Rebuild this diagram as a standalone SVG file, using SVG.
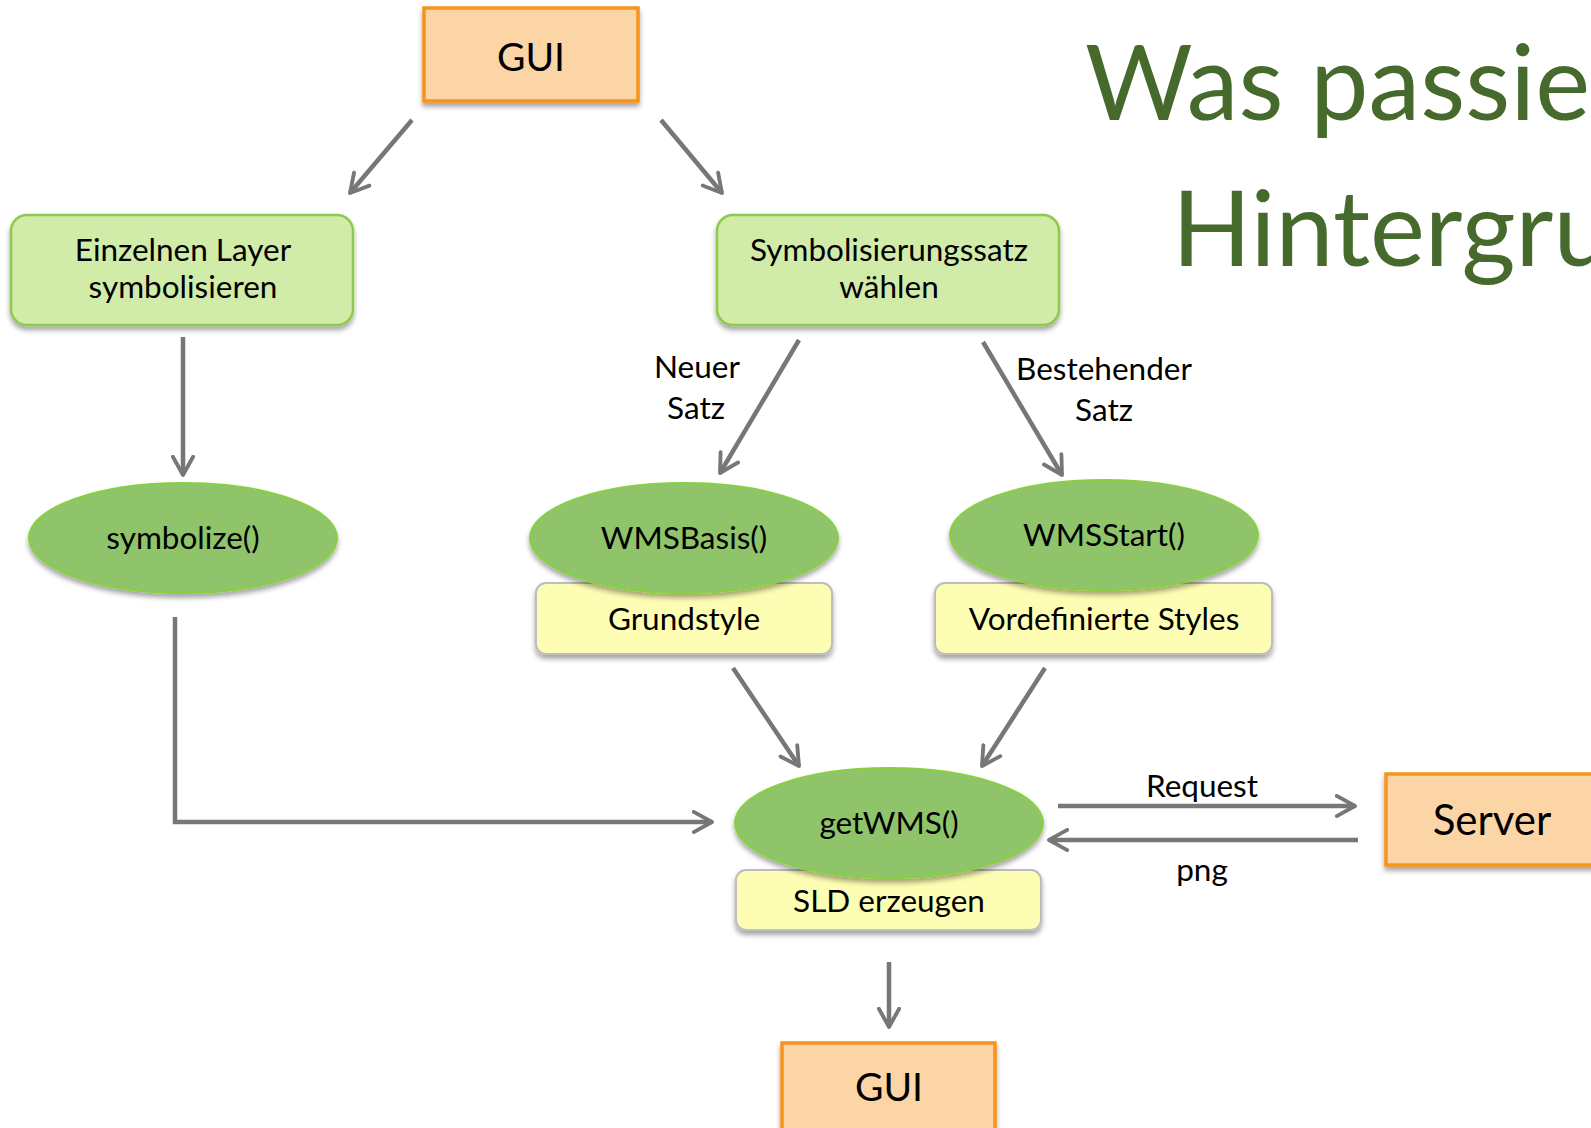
<svg xmlns="http://www.w3.org/2000/svg" width="1591" height="1128" viewBox="0 0 1591 1128">
<style>
text{font-family:Lato,"Open Sans","Liberation Sans",sans-serif;fill:#000;text-anchor:middle}
.t{font-size:31.5px}
.big{font-size:39px}
.title{font-size:104px;fill:#46692C;text-anchor:start}
.orange{fill:#FBD5A5;stroke:#F7941D;stroke-width:3.5}
.gbox{fill:#D1EBA9;stroke:#8CCB4A;stroke-width:2.5}
.ell{fill:#8FC46B;stroke:#88D040;stroke-width:2}
.ybox{fill:#FDFDB3;stroke:#BDBDBD;stroke-width:2}
.c{fill:none;stroke:#777;stroke-width:4.5;marker-end:url(#ah)}
</style>
<defs>
<filter id="sh" x="-10%" y="-10%" width="120%" height="140%">
<feDropShadow dx="0" dy="4" stdDeviation="2.5" flood-color="#000" flood-opacity="0.35"/>
</filter>
<marker id="ah" viewBox="0 0 12 12" refX="10" refY="6" markerWidth="5.4" markerHeight="5.4" orient="auto" markerUnits="strokeWidth">
<path d="M1,1 L10,6 L1,11" fill="none" stroke="#777" stroke-width="1.9" stroke-linecap="round" stroke-linejoin="round"/>
</marker>
</defs>
<rect width="1591" height="1128" fill="#fff"/>
<g id="title">
<text class="title" x="1085" y="120">Was passie</text>
<text class="title" x="1172" y="266">Hintergru</text>
</g>
<g id="connectors">
<line class="c" x1="412" y1="120" x2="350" y2="193"/>
<line class="c" x1="661" y1="120" x2="722" y2="193"/>
<line class="c" x1="183" y1="337" x2="183" y2="475"/>
<line class="c" x1="799" y1="340" x2="720" y2="473"/>
<line class="c" x1="983" y1="342" x2="1062" y2="475"/>
<polyline class="c" points="175,617 175,822 712,822"/>
<line class="c" x1="733" y1="668" x2="799" y2="766"/>
<line class="c" x1="1045" y1="668" x2="982" y2="766"/>
<line class="c" x1="1058" y1="806" x2="1355" y2="806"/>
<line class="c" x1="1358" y1="840" x2="1049" y2="840"/>
<line class="c" x1="889" y1="962" x2="889" y2="1027"/>
<text class="t" x="697" y="378">Neuer</text>
<text class="t" x="696" y="419">Satz</text>
<text class="t" x="1104" y="380">Bestehender</text>
<text class="t" x="1104" y="421">Satz</text>
<text class="t" x="1202" y="797">Request</text>
<text class="t" x="1202" y="881">png</text>
</g>
<g id="gui-top">
<rect class="orange" x="424" y="8" width="214" height="93" filter="url(#sh)"/>
<text class="big" x="531" y="71">GUI</text>
</g>
<g id="einzelnen">
<rect class="gbox" x="11" y="215" width="342" height="110" rx="16" filter="url(#sh)"/>
<text class="t" x="183" y="261">Einzelnen Layer</text>
<text class="t" x="183" y="298">symbolisieren</text>
</g>
<g id="symbolsatz">
<rect class="gbox" x="717" y="215" width="342" height="110" rx="16" filter="url(#sh)"/>
<text class="t" x="889" y="261">Symbolisierungssatz</text>
<text class="t" x="889" y="298">wählen</text>
</g>
<g id="symbolize">
<ellipse class="ell" cx="183" cy="538" rx="154" ry="55" filter="url(#sh)"/>
<text class="t" x="183" y="549">symbolize()</text>
</g>
<g id="grundstyle">
<rect class="ybox" x="536" y="583" width="296" height="71" rx="10" filter="url(#sh)"/>
<text class="t" x="684" y="630">Grundstyle</text>
</g>
<g id="wmsbasis">
<ellipse class="ell" cx="684" cy="538" rx="154" ry="55" filter="url(#sh)"/>
<text class="t" x="684" y="549">WMSBasis()</text>
</g>
<g id="vordefiniert">
<rect class="ybox" x="935" y="583" width="337" height="71" rx="10" filter="url(#sh)"/>
<text class="t" x="1104" y="630">Vordefinierte Styles</text>
</g>
<g id="wmsstart">
<ellipse class="ell" cx="1104" cy="535" rx="154" ry="55" filter="url(#sh)"/>
<text class="t" x="1104" y="546">WMSStart()</text>
</g>
<g id="sld">
<rect class="ybox" x="736" y="870" width="305" height="60" rx="10" filter="url(#sh)"/>
<text class="t" x="889" y="912">SLD erzeugen</text>
</g>
<g id="getwms">
<ellipse class="ell" cx="889" cy="823" rx="154" ry="55" filter="url(#sh)"/>
<text class="t" x="889" y="834">getWMS()</text>
</g>
<g id="server">
<rect class="orange" x="1386" y="774" width="220" height="91" filter="url(#sh)"/>
<text style="font-size:42px" x="1492" y="835">Server</text>
</g>
<g id="gui-bottom">
<rect class="orange" x="782" y="1043" width="213" height="100" filter="url(#sh)"/>
<text class="big" x="889" y="1101">GUI</text>
</g>
</svg>
